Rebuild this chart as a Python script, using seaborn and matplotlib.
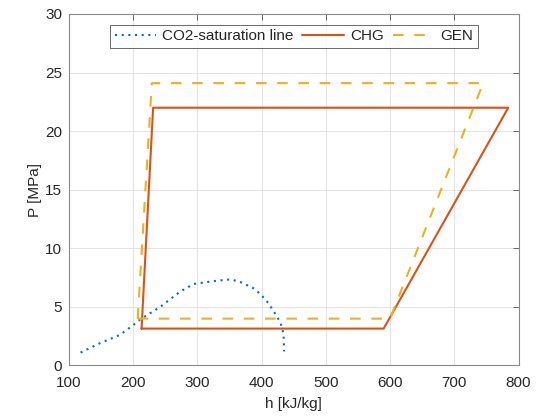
import matplotlib
matplotlib.use("Agg")
import matplotlib.pyplot as plt
import seaborn as sns
import pandas as pd

# CO2 saturation dome (enthalpy vs pressure)
sat_h = [118, 148, 179, 200, 210, 242, 273, 294, 325, 351, 366, 387, 398, 408, 418, 429, 434, 435]
sat_p = [1.1, 1.9, 2.6, 3.45, 3.9, 5.0, 6.3, 6.95, 7.2, 7.35, 7.15, 6.6, 6.1, 5.5, 4.7, 3.7, 2.75, 1.2]

# Charging cycle
chg_h = [213, 231, 784, 590, 213]
chg_p = [3.15, 22.0, 22.0, 3.15, 3.15]

# Generation cycle
gen_h = [207, 229, 745, 600, 207]
gen_p = [4.0, 24.1, 24.1, 4.0, 4.0]

labels = ["CO2-saturation line", "CHG", "GEN"]
colors = ["#0072BD", "#D95319", "#EDB120"]

sns.set_theme(style="white")
plt.rcParams["font.family"] = ["Liberation Sans", "DejaVu Sans"]

fig = plt.figure(figsize=(5.39, 4.18), dpi=100)
ax = fig.add_axes([0.128, 0.1256, 0.834, 0.841])

frames = [
    pd.DataFrame({"h": sat_h, "P": sat_p}),
    pd.DataFrame({"h": chg_h, "P": chg_p}),
    pd.DataFrame({"h": gen_h, "P": gen_p}),
]
styles = [(0, (1, 2.2)), "-", (0, (5.1, 5.1))]
for df, lab, col, ls in zip(frames, labels, colors, styles):
    sns.lineplot(data=df, x="h", y="P", sort=False, estimator=None, ax=ax,
                 color=col, linewidth=1.5, linestyle=ls, label=lab)
for line in ax.get_lines():
    line.set_dash_capstyle("butt")

ax.set_xlim(100, 800)
ax.set_ylim(0, 30)
ax.set_xticks(range(100, 801, 100))
ax.set_yticks(range(0, 31, 5))
ax.grid(True, color="#dfdfdf", linewidth=0.6)
ax.set_axisbelow(True)

for s in ax.spines.values():
    s.set_visible(True)
    s.set_color("#8a8a8a")
    s.set_linewidth(0.8)

ax.tick_params(axis="both", which="both", direction="in", length=4, width=0.6,
               color="#555555", top=True, right=True, labelsize=11,
               labelcolor="#262626")
ax.tick_params(axis="x", pad=7.5)
ax.tick_params(axis="y", pad=5)
ax.set_xlabel("h [kJ/kg]", fontsize=11, color="#262626", labelpad=5)
ax.set_ylabel("P [MPa]", fontsize=11, color="#262626", labelpad=2)

leg = ax.legend(loc="upper center", ncol=3, fontsize=11, frameon=True,
                fancybox=False, handlelength=2.7, handletextpad=0.4,
                columnspacing=0.6, borderpad=0.3, borderaxespad=0.7)
leg.get_frame().set_edgecolor("#262626")
leg.get_frame().set_linewidth(0.6)
for t in leg.get_texts():
    t.set_color("#262626")

fig.savefig("out.png", dpi=100)
